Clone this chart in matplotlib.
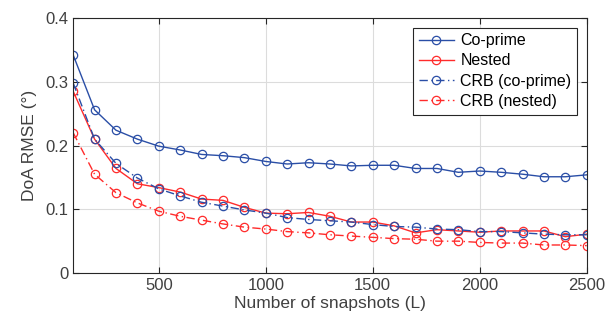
import matplotlib
matplotlib.use("Agg")
import matplotlib.pyplot as plt
import numpy as np

# snapshots L
snapshots = np.arange(100, 2501, 100)

rmse_coprime = [0.342, 0.256, 0.224, 0.210, 0.199, 0.193, 0.186, 0.184, 0.181, 0.175,
                0.171, 0.173, 0.171, 0.168, 0.169, 0.169, 0.164, 0.164, 0.158, 0.160,
                0.158, 0.155, 0.151, 0.151, 0.154]
rmse_nested = [0.285, 0.210, 0.164, 0.140, 0.134, 0.127, 0.116, 0.114, 0.103, 0.094,
               0.093, 0.095, 0.089, 0.080, 0.080, 0.074, 0.063, 0.068, 0.066, 0.064,
               0.066, 0.066, 0.066, 0.057, 0.061]
crb_coprime = [0.298, 0.210, 0.172, 0.149, 0.132, 0.121, 0.111, 0.105, 0.099, 0.094,
               0.087, 0.084, 0.082, 0.080, 0.076, 0.073, 0.072, 0.069, 0.068, 0.065,
               0.065, 0.063, 0.061, 0.060, 0.060]
crb_nested = [0.220, 0.155, 0.126, 0.110, 0.097, 0.089, 0.083, 0.077, 0.072, 0.069,
              0.065, 0.063, 0.060, 0.058, 0.056, 0.054, 0.053, 0.050, 0.050, 0.048,
              0.047, 0.047, 0.044, 0.044, 0.043]

BLUE = "#2a4ea6"
RED = "#ff2b2b"

plt.rcParams["font.family"] = ["Liberation Sans", "DejaVu Sans"]

fig = plt.figure(figsize=(6.15, 3.27), dpi=100)
ax = fig.add_axes([0.119, 0.165, 0.835, 0.780])

mk = dict(marker="o", markerfacecolor="none", markersize=6, markeredgewidth=0.9, linewidth=1.0)
ax.plot(snapshots, rmse_coprime, color=BLUE, linestyle="-", label="Co-prime", **mk)
ax.plot(snapshots, rmse_nested, color=RED, linestyle="-", label="Nested", **mk)
ax.plot(snapshots, crb_coprime, color=BLUE, linestyle=(0, (6, 2.5, 1, 2.5)), label="CRB (co-prime)", **mk)
ax.plot(snapshots, crb_nested, color=RED, linestyle=(0, (6, 2.5, 1, 2.5)), label="CRB (nested)", **mk)

ax.set_xlim(100, 2500)
ax.set_ylim(0, 0.4)
ax.set_xticks([500, 1000, 1500, 2000, 2500])
ax.set_yticks([0, 0.1, 0.2, 0.3, 0.4])
ax.set_yticklabels(["0", "0.1", "0.2", "0.3", "0.4"])
ax.grid(True, color="#dcdcdc", linewidth=0.8)
ax.set_axisbelow(True)

for s in ax.spines.values():
    s.set_color("#262626")
    s.set_linewidth(0.8)
ax.tick_params(direction="in", top=True, right=True, length=4, width=0.8,
               colors="#262626", labelsize=12, labelcolor="#404040")

ax.set_xlabel("Number of snapshots (L)", fontsize=12.5, color="#404040", labelpad=2)
ax.set_ylabel("DoA RMSE (°)", fontsize=12.5, color="#404040", labelpad=6)

leg = ax.legend(loc="upper right", fontsize=11.5, frameon=True, fancybox=False,
                edgecolor="#262626", framealpha=1, handlelength=2.2, borderpad=0.35,
                labelspacing=0.33, handletextpad=0.4, borderaxespad=0.6)
leg.get_frame().set_linewidth(0.8)

fig.savefig("out.png", dpi=100)
